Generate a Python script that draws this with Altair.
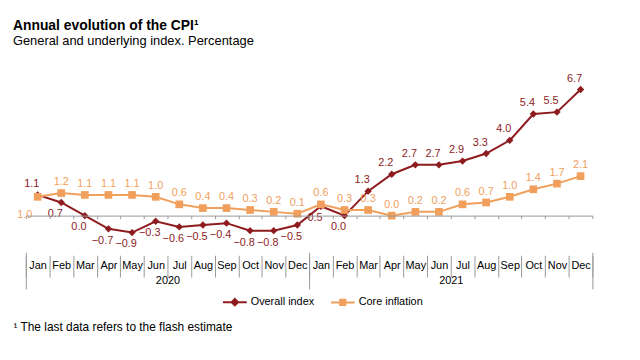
import altair as alt
import pandas as pd

months = ["Jan", "Feb", "Mar", "Apr", "May", "Jun", "Jul", "Aug", "Sep", "Oct", "Nov", "Dec"]
years = ["2020", "2021"]
series = ["Overall index", "Core inflation"]
overall = [1.1, 0.7, 0.0, -0.7, -0.9, -0.3, -0.6, -0.5, -0.4, -0.8, -0.8, -0.5,
           0.5, 0.0, 1.3, 2.2, 2.7, 2.7, 2.9, 3.3, 4.0, 5.4, 5.5, 6.7]
core = [1.0, 1.2, 1.1, 1.1, 1.1, 1.0, 0.6, 0.4, 0.4, 0.3, 0.2, 0.1,
        0.6, 0.3, 0.3, 0.0, 0.2, 0.2, 0.6, 0.7, 1.0, 1.4, 1.7, 2.1]
colors = ["#8E1B1E", "#F0A05C"]

keys = [f"{y}-{m}" for y in years for m in months]
rows = []
for i, k in enumerate(keys):
    rows.append({"key": k, "year": k[:4], "i": i, "series": series[0], "value": overall[i]})
    rows.append({"key": k, "year": k[:4], "i": i, "series": series[1], "value": core[i]})
df = pd.DataFrame(rows)

FONT = "Liberation Sans"
W, H = 572, 133

xpoint = alt.Scale(domain=keys, padding=0.5)
xband = alt.Scale(domain=keys, paddingInner=0, paddingOuter=0)
yscale = alt.Scale(domain=[0, 7], nice=False, zero=False)
cscale = alt.Scale(domain=series, range=colors)

base = alt.Chart(df)
X = alt.X("key:N", scale=xpoint, axis=None)
Y = alt.Y("value:Q", scale=yscale, axis=None)

lines = base.mark_line(strokeWidth=2).encode(
    x=X, y=Y, color=alt.Color("series:N", scale=cscale, legend=None)
)
pts_overall = base.transform_filter(f"datum.series == '{series[0]}'").mark_point(
    filled=True, shape="diamond", size=55, opacity=1, color=colors[0]
).encode(x=X, y=Y)
pts_core = base.transform_filter(f"datum.series == '{series[1]}'").mark_point(
    filled=True, shape="square", size=60, opacity=1, color=colors[1]
).encode(x=X, y=Y)

def labels(filt, dx, dy, color):
    return base.transform_filter(filt).mark_text(
        fontSize=11, font=FONT, dx=dx, dy=dy, color=color
    ).encode(x=X, y=Y, text=alt.Text("value:Q", format=".1f"))

lab_o_up = labels("datum.series == 'Overall index' && datum.value >= 1", -6, -11, colors[0])
lab_o_dn = labels("datum.series == 'Overall index' && datum.value < 1", -6, 12, colors[0])
lab_c = labels("datum.series == 'Core inflation' && datum.i > 0", 0, -11, colors[1])
lab_c0 = labels("datum.series == 'Core inflation' && datum.i == 0", -13, 18, colors[1])

# legend layer (invisible marks, visible legend)
path_d = "M-1,0L1,0M0,-0.27L0.27,0L0,0.27L-0.27,0Z"
path_s = "M-1,0L1,0M-0.22,-0.22L0.22,-0.22L0.22,0.22L-0.22,0.22Z"
leg = alt.Legend(orient="none", legendX=198, legendY=207, direction="horizontal", title=None,
                 symbolSize=576, symbolStrokeWidth=2, symbolOpacity=1, labelFontSize=11,
                 labelFont=FONT, labelColor="#000000", labelFontWeight="normal",
                 labelOffset=3, columnPadding=12, padding=0)
legend_layer = base.mark_point(filled=True, opacity=0, strokeWidth=2).encode(
    x=X, y=Y,
    shape=alt.Shape("series:N", scale=alt.Scale(domain=series, range=[path_d, path_s]), legend=leg),
    fill=alt.Fill("series:N", scale=cscale, legend=leg),
    stroke=alt.Stroke("series:N", scale=cscale, legend=leg),
)

month_df = df[df.series == series[0]]
axis_zero = alt.Chart(month_df).mark_rect(opacity=0).encode(
    x=alt.X("key:N", scale=xband, axis=alt.Axis(
        orient="bottom", offset=0, domain=True, domainColor="#999999", domainWidth=1,
        ticks=True, tickBand="extent", tickSize=3, tickColor="#999999",
        labels=False, title=None, grid=False))
)
axis_month = alt.Chart(month_df).mark_rect(opacity=0).encode(
    x=alt.X("key:N", scale=xband, axis=alt.Axis(
        orient="bottom", offset=40, domain=False,
        ticks=True, tickBand="extent", tickSize=22, tickColor="#999999",
        labels=True, labelExpr="split(datum.label, '-')[1]", labelPadding=-18,
        labelFontSize=11, labelFont=FONT, labelColor="#000000", labelAngle=0,
        labelOverlap=False, labelBound=False, title=None, grid=False))
)
axis_year = alt.Chart(month_df).mark_rect(opacity=0).encode(
    x=alt.X("year:N", scale=alt.Scale(domain=years, paddingInner=0, paddingOuter=0), axis=alt.Axis(
        orient="bottom", offset=37, domain=False,
        ticks=True, tickBand="extent", tickSize=37, tickColor="#999999",
        labels=True, labelPadding=-14, labelFontSize=11, labelFont=FONT, labelColor="#000000",
        labelAngle=0, labelOverlap=False,
        title="¹ The last data refers to the flash estimate", titleX=-13, titleY=75,
        titleAlign="left", titleAnchor="start", titleBaseline="middle",
        titleFontSize=12, titleFontWeight="normal", titleFont=FONT, titleColor="#000000",
        grid=False))
)

chart = alt.layer(
    axis_zero, axis_month, axis_year, legend_layer, lines, pts_overall, pts_core,
    lab_o_up, lab_o_dn, lab_c, lab_c0
).resolve_scale(x="independent").properties(
    width=W, height=H,
    autosize=alt.AutoSizeParams(type="none"),
    padding={"left": 18, "top": 75, "right": 40, "bottom": 130},
    title=alt.TitleParams(
        text="Annual evolution of the CPI¹",
        subtitle="General and underlying index. Percentage",
        anchor="start", frame="group", dx=-13, offset=25,
        font=FONT, fontSize=14, fontWeight="bold", color="#000000",
        subtitleFont=FONT, subtitleFontSize=13, subtitleColor="#000000", subtitlePadding=2,
    ),
).configure(font=FONT, view=alt.ViewConfig(stroke=None))

chart.save("out.html", embed_options={"renderer": "svg", "actions": False})
